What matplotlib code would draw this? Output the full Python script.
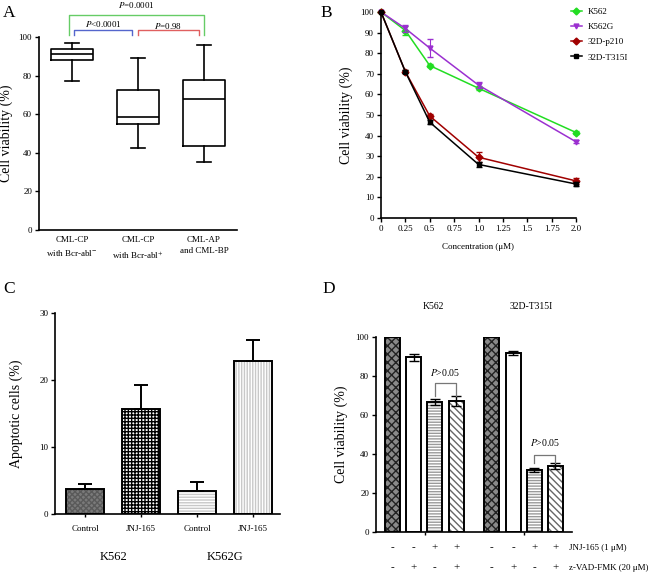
import matplotlib
matplotlib.use("Agg")
import matplotlib.pyplot as plt
import numpy as np

plt.rcParams['font.family'] = ['Liberation Serif', 'DejaVu Serif']
plt.rcParams['mathtext.fontset'] = 'stix'
plt.rcParams['hatch.linewidth'] = 1.0

# ---- data ----
# A: box plots
a_groups = ["CML-CP\nwith Bcr-abl$^{-}$", "CML-CP\nwith Bcr-abl$^{+}$", "CML-AP\nand CML-BP"]
a_low = [77, 42.5, 35]
a_q1 = [88, 55, 43.5]
a_med = [91, 58.5, 68]
a_q3 = [94, 72.5, 77.5]
a_high = [97, 89, 96]

# B: dose response
b_conc = [0, 0.25, 0.5, 1.0, 2.0]
b_names = ["K562", "K562G", "32D-p210", "32D-T315I"]
b_vals = [[100, 91, 74, 63, 41.5],
          [100, 92, 82.5, 64.5, 37],
          [100, 71, 49.5, 29.5, 18],
          [100, 71, 46.5, 26, 16.5]]
b_err = [[0, 2, 0.8, 1, 0.8],
         [0, 1.5, 4.5, 1.5, 0.8],
         [0, 0.8, 1, 2.5, 1.5],
         [0, 0.8, 1, 1, 0.8]]
b_colors = ['#22dd22', '#9b30d0', '#a00000', '#000000']
b_markers = ['D', 'v', 'D', 's']
b_xticks = [0, 0.25, 0.5, 0.75, 1.0, 1.25, 1.5, 1.75, 2.0]
b_xticklabels = ["0", "0.25", "0.5", "0.75", "1.0", "1.25", "1.5", "1.75", "2.0"]

# C: apoptosis
c_labels = ["Control", "JNJ-165", "Control", "JNJ-165"]
c_groups = ["K562", "K562G"]
c_vals = [3.8, 15.6, 3.5, 22.9]
c_err = [0.7, 3.6, 1.3, 3.1]

# D: viability with caspase inhibitor
d_groups = ["K562", "32D-T315I"]
d_vals = [100, 89.5, 66.5, 67, 100, 92, 32, 34]
d_err = [0, 2, 1.5, 2.5, 0, 1, 1, 1.5]
d_jnj = ["-", "-", "+", "+", "-", "-", "+", "+"]
d_zvad = ["-", "+", "-", "+", "-", "+", "-", "+"]

W, H = 650, 574
fig = plt.figure(figsize=(6.5, 5.74), dpi=100)


def px_axes(left, top, right, bottom):
    return fig.add_axes([left / W, 1 - bottom / H, (right - left) / W, (bottom - top) / H])


def style(ax):
    for s in ['top', 'right']:
        ax.spines[s].set_visible(False)
    for s in ['left', 'bottom']:
        ax.spines[s].set_linewidth(1.2)
    ax.tick_params(direction='out', length=3, width=1, labelsize=6.5, pad=2)


def hbar(ax, x, h, w, face, hatch, hcolor):
    ax.bar(x, h, w, color=face, edgecolor=hcolor, hatch=hatch, linewidth=0)
    ax.bar(x, h, w, fill=False, edgecolor='black', linewidth=1.4)


# ---- panel A ----
axA = px_axes(39, 37, 237, 230)
style(axA)
stats = []
for i in range(3):
    stats.append(dict(med=a_med[i], q1=a_q1[i], q3=a_q3[i], whislo=a_low[i], whishi=a_high[i], fliers=[]))
lp = dict(color='black', linewidth=1.2)
axA.bxp(stats, positions=[1, 2, 3], widths=0.65, showfliers=False,
        boxprops=lp, medianprops=lp, whiskerprops=lp, capprops=lp, capwidths=0.2)
axA.set_xlim(0.5, 3.5)
axA.set_ylim(0, 100)
axA.set_yticks([0, 20, 40, 60, 80, 100])
axA.set_xticks([1, 2, 3])
axA.set_xticklabels(a_groups, fontsize=6.5, linespacing=1.6)
axA.tick_params(axis='x', length=0, pad=4)
axA.set_ylabel("Cell viability (%)", fontsize=10)
axA.yaxis.set_label_coords(-0.13, 0.5)
axA.plot([1.03, 1.03, 1.91, 1.91], [101, 103.6, 103.6, 101], color='#5566cc', lw=1, clip_on=False)
axA.plot([2.0, 2.0, 2.92, 2.92], [101, 103.6, 103.6, 101], color='#e06060', lw=1, clip_on=False)
axA.plot([0.955, 0.955, 3.0, 3.0], [101, 111.4, 111.4, 101], color='#66cc66', lw=1, clip_on=False)
axA.text(1.47, 106.7, "$P$<0.0001", ha='center', va='center', fontsize=6.5)
axA.text(2.46, 105.7, "$P$=0.98", ha='center', va='center', fontsize=6.5)
axA.text(1.98, 116.6, "$P$=0.0001", ha='center', va='center', fontsize=6.5)

# ---- panel B ----
axB = px_axes(381, 12, 576, 218)
style(axB)
for vals, err, col, mk, name in zip(b_vals, b_err, b_colors, b_markers, b_names):
    axB.errorbar(b_conc, vals, yerr=err, color=col, fmt='none', capsize=2, elinewidth=0.8, clip_on=False)
    axB.plot(b_conc, vals, color=col, marker=mk, markersize=3.5, lw=1.1, label=name, clip_on=False)
axB.set_xlim(0, 2)
axB.set_ylim(0, 100)
axB.set_yticks(range(0, 101, 10))
axB.set_xticks(b_xticks)
axB.set_xticklabels(b_xticklabels)
axB.set_xlabel("Concentration (μM)", fontsize=6.5)
axB.xaxis.set_label_coords(0.5, -0.12)
axB.set_ylabel("Cell viability (%)", fontsize=10)
axB.yaxis.set_label_coords(-0.145, 0.5)
axB.legend(loc='upper left', bbox_to_anchor=(571 / W, 1 - 8 / H), bbox_transform=fig.transFigure,
           frameon=False, fontsize=6.5, handlelength=1.2, handletextpad=0.6, labelspacing=0.75,
           borderaxespad=0, borderpad=0)

# ---- panel C ----
axC = px_axes(55, 313, 280, 514)
style(axC)
c_x = np.arange(len(c_vals))
c_face = ['#7a7a7a', 'white', '#c8c8c8', '#c8c8c8']
c_hatch = ['xxxxxx', '+++++', '------', '||||||']
c_hcol = ['#5a5a5a', 'black', 'white', 'white']
for x, v, f, hch, hc in zip(c_x, c_vals, c_face, c_hatch, c_hcol):
    hbar(axC, x, v, 0.67, f, hch, hc)
axC.errorbar(c_x, c_vals, yerr=[np.zeros(len(c_err)), c_err], fmt='none', ecolor='black',
             elinewidth=1.4, capsize=5, capthick=1.4)
axC.set_xlim(-0.54, 3.48)
axC.set_ylim(0, 30)
axC.set_yticks([0, 10, 20, 30])
axC.set_xticks(c_x)
axC.set_xticklabels(c_labels, fontsize=6.5)
axC.tick_params(axis='x', length=2, pad=6)
axC.set_ylabel("Apoptotic cells (%)", fontsize=10)
axC.yaxis.set_label_coords(-0.142, 0.5)
for i, g in enumerate(c_groups):
    axC.text(2 * i + 0.5, -0.214, g, transform=axC.get_xaxis_transform(),
             ha='center', va='center', fontsize=9)

# ---- panel D ----
axD = px_axes(376, 337, 572, 532)
style(axD)
d_x = np.array([0, 1, 2, 3, 4.7, 5.7, 6.7, 7.7])
d_face = ['#8a8a8a', 'white', '#9a9a9a', 'white']
d_hatch = ['xxxx', '', '------', '\\\\\\\\\\']
d_hcol = ['#222222', 'white', 'white', '#666666']
for i, (x, v) in enumerate(zip(d_x, d_vals)):
    k = i % 4
    hbar(axD, x, v, 0.71, d_face[k], d_hatch[k], d_hcol[k])
for x, v, e in zip(d_x, d_vals, d_err):
    if e > 0:
        axD.errorbar(x, v, yerr=e, fmt='none', ecolor='black', elinewidth=1, capsize=3.5, capthick=1)
axD.set_xlim(-0.79, 8.49)
axD.set_ylim(0, 100)
axD.set_yticks(range(0, 101, 20))
axD.set_xticks([1.55, 6.2])
axD.set_xticklabels(["", ""])
axD.tick_params(axis='x', length=2)
axD.set_ylabel("Cell viability (%)", fontsize=10)
axD.yaxis.set_label_coords(-0.143, 0.5)
xt = axD.get_xaxis_transform()
for x, j, z in zip(d_x, d_jnj, d_zvad):
    axD.text(x, -0.082, j, transform=xt, ha='center', va='center', fontsize=8)
    axD.text(x, -0.185, z, transform=xt, ha='center', va='center', fontsize=8)
axD.text(8.36, -0.082, "JNJ-165 (1 μM)", transform=xt, ha='left', va='center', fontsize=6.5)
axD.text(8.36, -0.185, "z-VAD-FMK (20 μM)", transform=xt, ha='left', va='center', fontsize=6.5)
axD.text(1.93, 1.154, d_groups[0], transform=xt, ha='center', va='center', fontsize=7)
axD.text(6.55, 1.154, d_groups[1], transform=xt, ha='center', va='center', fontsize=7)
# significance brackets
for a, b, ytop, ylow, yt in [(2, 3, 76.4, 70, 82), (6.7, 7.7, 39.5, 35.5, 46)]:
    axD.plot([a, a, b, b], [ylow, ytop, ytop, ylow], color='#777777', lw=0.9)
    axD.text((a + b) / 2, yt, "$P$>0.05", ha='center', va='center', fontsize=7)

# panel letters
for lbl, x, y in [("A", 3, 5), ("B", 320, 5), ("C", 3, 281), ("D", 322, 281)]:
    fig.text(x / W, 1 - y / H, lbl, ha='left', va='top', fontsize=12.5)

fig.savefig("out.png", dpi=100)
